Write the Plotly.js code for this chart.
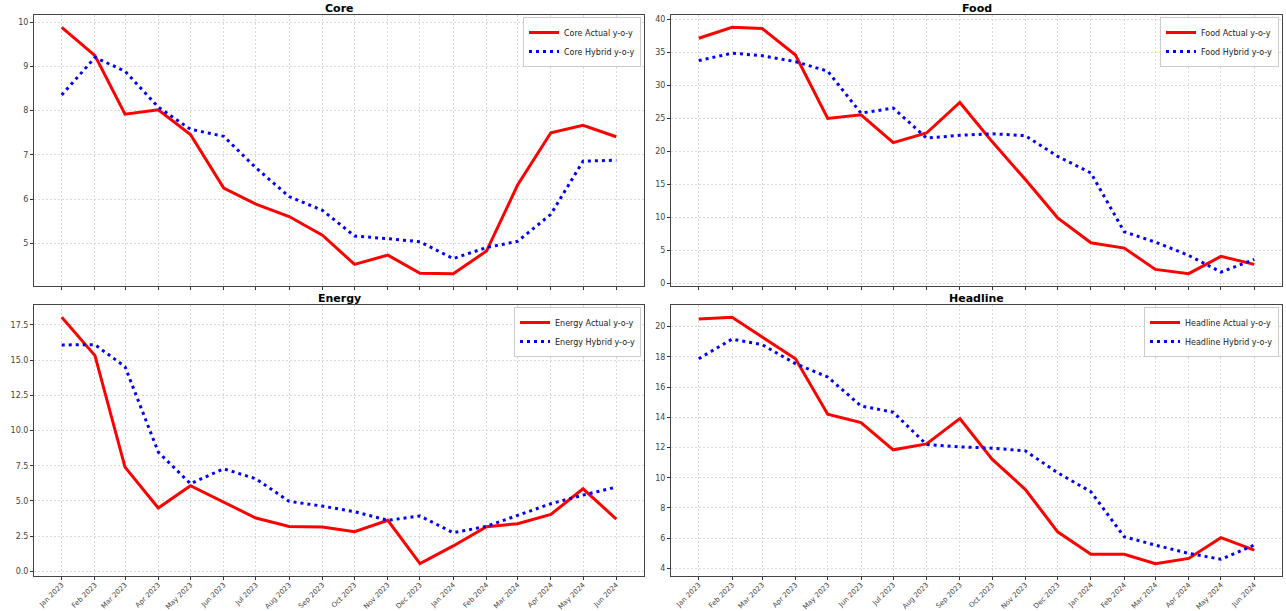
<!DOCTYPE html>
<html>
<head>
<meta charset="utf-8">
<script src="https://cdn.plot.ly/plotly-3.0.1.min.js"></script>
<style>
  html, body { margin: 0; padding: 0; background: #ffffff; }
  #chart { width: 1286px; height: 611px; }
</style>
</head>
<body>
<div id="chart"></div>
<script>
// Month starts, Jan 2023 .. Jun 2024
const months = [
  "2023-01-01", "2023-02-01", "2023-03-01", "2023-04-01", "2023-05-01", "2023-06-01",
  "2023-07-01", "2023-08-01", "2023-09-01", "2023-10-01", "2023-11-01", "2023-12-01",
  "2024-01-01", "2024-02-01", "2024-03-01", "2024-04-01", "2024-05-01", "2024-06-01"
];

// Year-on-year inflation, actual vs hybrid model (%)
const coreActual = [9.88, 9.24, 7.92, 8.02, 7.46, 6.25, 5.89, 5.61, 5.19, 4.53, 4.74, 4.33, 4.32, 4.83, 6.32, 7.50, 7.67, 7.41];
const coreHybrid = [8.35, 9.20, 8.89, 8.08, 7.58, 7.42, 6.71, 6.06, 5.75, 5.17, 5.11, 5.04, 4.66, 4.91, 5.05, 5.66, 6.86, 6.88];

const foodActual = [37.13, 38.79, 38.60, 34.60, 25.00, 25.56, 21.33, 22.80, 27.42, 21.50, 15.75, 9.96, 6.19, 5.38, 2.16, 1.51, 4.13, 2.92];
const foodHybrid = [33.76, 34.87, 34.50, 33.60, 32.15, 25.80, 26.57, 22.04, 22.44, 22.69, 22.39, 19.27, 16.75, 7.85, 6.29, 4.28, 1.76, 3.67];

const energyActual = [18.04, 15.32, 7.40, 4.49, 6.08, 4.92, 3.78, 3.19, 3.14, 2.81, 3.62, 0.54, 1.80, 3.17, 3.38, 4.04, 5.86, 3.71];
const energyHybrid = [16.08, 16.09, 14.54, 8.47, 6.22, 7.28, 6.57, 4.97, 4.63, 4.23, 3.62, 3.93, 2.74, 3.19, 3.97, 4.80, 5.41, 5.98];

const headlineActual = [20.51, 20.62, 19.32, 17.88, 14.20, 13.65, 11.85, 12.24, 13.92, 11.23, 9.22, 6.42, 4.93, 4.93, 4.31, 4.66, 6.03, 5.21];
const headlineHybrid = [17.88, 19.18, 18.81, 17.55, 16.67, 14.75, 14.34, 12.20, 12.04, 11.96, 11.78, 10.33, 9.07, 6.09, 5.54, 4.99, 4.60, 5.54];

const panelNames = ["Core", "Food", "Energy", "Headline"];
const actualSeries = [coreActual, foodActual, energyActual, headlineActual];
const hybridSeries = [coreHybrid, foodHybrid, energyHybrid, headlineHybrid];
const yTickStep = [1, 5, 2.5, 2];
const yTickFormat = ["", "", ".1f", ""];

// Figure geometry (px)
const W = 1286, H = 611;
const colsPx = [[34, 644], [671, 1282]];
const rowsPx = [[15, 286], [305, 576]];

function padRange(lo, hi, frac) {
  const s = hi - lo;
  return [lo - frac * s, hi + frac * s];
}

// x range with 5% margin around the first and last month
const t0 = Date.parse(months[0] + "T00:00:00Z");
const t1 = Date.parse(months[months.length - 1] + "T00:00:00Z");
const xr = padRange(t0, t1, 0.05).map(t => new Date(t).toISOString().replace("T", " ").replace("Z", ""));

const yFont = { family: "DejaVu Sans, sans-serif", size: 8, color: "#444444" };
const xFont = { family: "DejaVu Sans, sans-serif", size: 7, color: "#444444" };
const traces = [];
const layout = {
  width: W, height: H,
  margin: { l: 0, r: 0, t: 0, b: 0 },
  paper_bgcolor: "#ffffff",
  plot_bgcolor: "#ffffff",
  showlegend: true,
  annotations: [],
  font: { family: "DejaVu Sans, sans-serif", size: 8, color: "#222222" }
};

panelNames.forEach((name, i) => {
  const row = Math.floor(i / 2), col = i % 2;
  const n = i + 1;
  const xa = n === 1 ? "x" : "x" + n;
  const ya = n === 1 ? "y" : "y" + n;
  const lg = n === 1 ? "legend" : "legend" + n;
  const xd = [colsPx[col][0] / W, colsPx[col][1] / W];
  const yd = [(H - rowsPx[row][1]) / H, (H - rowsPx[row][0]) / H];

  const a = actualSeries[i], h = hybridSeries[i];
  const all = a.concat(h);
  const yr = padRange(Math.min(...all), Math.max(...all), 0.05);

  traces.push({
    type: "scatter", mode: "lines", x: months, y: a,
    name: name + " Actual y-o-y",
    line: { color: "#ff0000", width: 3 },
    xaxis: xa, yaxis: ya, legend: lg, hoverinfo: "skip"
  });
  traces.push({
    type: "scatter", mode: "lines", x: months, y: h,
    name: name + " Hybrid y-o-y",
    line: { color: "#0000ff", width: 3, dash: "3px,4px" },
    xaxis: xa, yaxis: ya, legend: lg, hoverinfo: "skip"
  });

  layout[n === 1 ? "xaxis" : "xaxis" + n] = {
    type: "date",
    domain: xd,
    anchor: ya,
    range: xr,
    tick0: months[0],
    dtick: "M1",
    tickformat: "%b %Y",
    tickangle: -45,
    showticklabels: row === 1,
    ticks: "outside", ticklen: 3, tickwidth: 1, tickcolor: "#333333",
    ticklabelstandoff: -2,
    tickfont: xFont,
    showline: true, linecolor: "#444444", linewidth: 1, mirror: true,
    showgrid: true, gridcolor: "#cfcfcf", gridwidth: 0.8, griddash: "2px,2px",
    zeroline: false, fixedrange: true
  };
  layout[n === 1 ? "yaxis" : "yaxis" + n] = {
    domain: yd,
    anchor: xa,
    range: yr,
    tick0: 0,
    dtick: yTickStep[i],
    tickformat: yTickFormat[i],
    ticks: "outside", ticklen: 3, tickwidth: 1, tickcolor: "#333333",
    tickfont: yFont,
    showline: true, linecolor: "#444444", linewidth: 1, mirror: true,
    showgrid: true, gridcolor: "#cfcfcf", gridwidth: 0.8, griddash: "2px,2px",
    zeroline: false, fixedrange: true
  };
  layout[lg] = {
    x: (colsPx[col][1] - 3) / W,
    y: (H - rowsPx[row][0] - 2) / H,
    xanchor: "right", yanchor: "top",
    xref: "paper", yref: "paper",
    bgcolor: "rgba(255,255,255,0.85)",
    bordercolor: "#cccccc", borderwidth: 1,
    font: { family: "DejaVu Sans, sans-serif", size: 8, color: "#222222" },
    tracegroupgap: 0
  };
  layout.annotations.push({
    text: "<b>" + name + "</b>",
    xref: "paper", yref: "paper",
    x: (xd[0] + xd[1]) / 2, y: yd[1],
    xanchor: "center", yanchor: "bottom",
    yshift: -2,
    showarrow: false,
    font: { family: "DejaVu Sans, sans-serif", size: 11, color: "#000000" }
  });
});

Plotly.newPlot("chart", traces, layout, { staticPlot: true, displayModeBar: false });
</script>
</body>
</html>
